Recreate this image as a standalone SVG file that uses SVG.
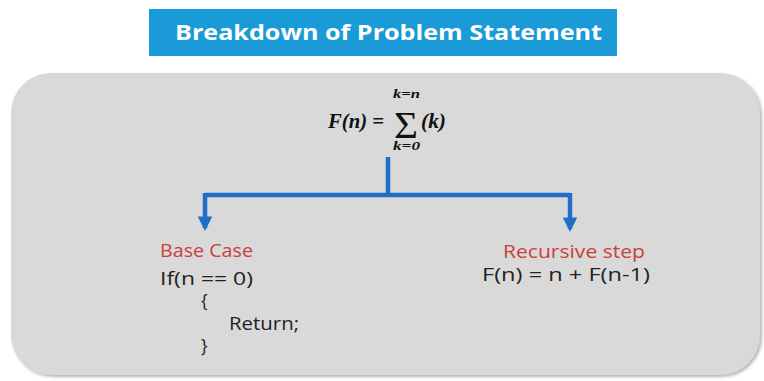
<svg xmlns="http://www.w3.org/2000/svg" width="764" height="381" viewBox="0 0 764 381">
<defs>
<style>
.lbl{font-family:"Open Sans",Lato,sans-serif;font-size:17.5px;}
.red{fill:#c8413c;}
.code{fill:#222222;}
.math{font-family:"Liberation Serif",serif;font-weight:bold;font-style:italic;fill:#111;}
.conn{stroke:#1f6fc6;stroke-width:4.5;fill:none;}
</style>
<marker id="ah" viewBox="0 0 10 10" refX="8" refY="5" markerWidth="3.2" markerHeight="3.2" orient="auto" markerUnits="strokeWidth">
<path d="M0,0 L10,5 L0,10 z" fill="#1f6fc6"/>
</marker>
<filter id="sh" x="-5%" y="-5%" width="110%" height="115%">
<feDropShadow dx="2" dy="2" stdDeviation="1.5" flood-color="#888" flood-opacity="0.6"/>
</filter>
</defs>
<rect width="764" height="381" fill="#ffffff"/>
<g id="panel">
<rect x="11" y="73" width="749" height="302" rx="40" ry="40" fill="#d9d9d9" filter="url(#sh)"/>
</g>
<g id="title">
<rect x="149" y="9" width="468" height="47" fill="#1a9ad6"/>
<text x="175" y="40" textLength="427" lengthAdjust="spacingAndGlyphs" font-family="'Open Sans',Lato,sans-serif" font-weight="bold" font-size="22" fill="#ffffff">Breakdown of Problem Statement</text>
</g>
<g id="formula">
<text class="math" x="328" y="128" font-size="20" textLength="56" lengthAdjust="spacingAndGlyphs">F(n) =</text>
<text x="406" y="138" font-family="'Liberation Serif',serif" font-size="38" text-anchor="middle" textLength="24" lengthAdjust="spacingAndGlyphs" fill="#111">Σ</text>
<text class="math" x="393" y="98" font-size="13" textLength="27" lengthAdjust="spacingAndGlyphs">k=n</text>
<text class="math" x="393" y="150" font-size="13" textLength="27" lengthAdjust="spacingAndGlyphs">k=0</text>
<text class="math" x="421" y="128" font-size="20" textLength="25" lengthAdjust="spacingAndGlyphs">(k)</text>
</g>
<g id="connectors">
<path class="conn" d="M388,157 V195"/>
<path class="conn" d="M205,195 H570"/>
<path class="conn" d="M205,193 V228" marker-end="url(#ah)"/>
<path class="conn" d="M570,193 V229" marker-end="url(#ah)"/>
</g>
<g id="base-case">
<text class="lbl red" x="160" y="257" textLength="93" lengthAdjust="spacingAndGlyphs">Base Case</text>
<text class="lbl code" x="160" y="285" textLength="93" lengthAdjust="spacingAndGlyphs">If(n == 0)</text>
<text class="lbl code" x="201" y="307">{</text>
<text class="lbl code" x="229" y="330" textLength="70" lengthAdjust="spacingAndGlyphs">Return;</text>
<text class="lbl code" x="201" y="352">}</text>
</g>
<g id="recursive-step">
<text class="lbl red" x="503" y="258" textLength="142" lengthAdjust="spacingAndGlyphs">Recursive step</text>
<text class="lbl code" x="482" y="281" textLength="168" lengthAdjust="spacingAndGlyphs">F(n) = n + F(n-1)</text>
</g>
</svg>
